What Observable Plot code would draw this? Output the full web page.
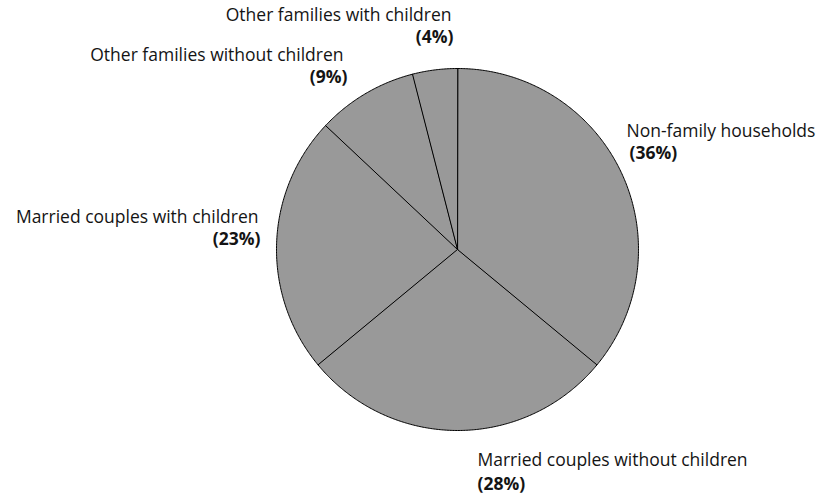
<!DOCTYPE html>
<html>
<head>
<meta charset="utf-8">
<script src="https://cdn.jsdelivr.net/npm/d3@7"></script>
<script src="https://cdn.jsdelivr.net/npm/@observablehq/plot@0.6"></script>
<style>
  html, body { margin: 0; padding: 0; background: #fff; }
</style>
</head>
<body>
<div id="chart"></div>
<script>
// Household types and their share of all households (%), clockwise from 12 o'clock
const categories = [
  "Non-family households",
  "Married couples without children",
  "Married couples with children",
  "Other families without children",
  "Other families with children"
];
const shares = [36, 28, 23, 9, 4];

// Page and pie geometry (pixels)
const W = 827, H = 494;
const CX = 457, CY = 249, R = 181;

// Where each two-line label sits: anchor side, name baseline, percentage baseline (pixels)
const labelSide = ["start", "start", "end", "end", "end"];
const nameSpots = [[626, 136], [477, 465], [258, 222], [343, 60], [451, 20]];
const pctSpots  = [[629, 158], [477, 489], [260, 244], [347, 82], [453, 42]];

const rows = categories.map((name, i) => ({name, share: shares[i]}));

// Wedge outlines in pie-radius units (x right, y up), angles clockwise from the top
const arcs = d3.pie().sort(null).value(d => d.share)(rows);
const wedgePts = arcs.flatMap(a => {
  const name = a.data.name;
  const n = Math.max(2, Math.ceil((a.endAngle - a.startAngle) / (Math.PI / 360)));
  const pts = [{name, x: 0, y: 0}];
  for (let i = 0; i <= n; i++) {
    const t = a.startAngle + (a.endAngle - a.startAngle) * i / n;
    pts.push({name, x: Math.sin(t), y: Math.cos(t)});
  }
  return pts;
});

// Label table in the same units as the wedges
const toX = px => (px - CX) / R;
const toY = py => (CY - py) / R;
const labels = rows.map((d, i) => ({
  name: d.name,
  pct: `(${d.share}%)`,
  side: labelSide[i],
  nx: toX(nameSpots[i][0]), ny: toY(nameSpots[i][1]),
  px: toX(pctSpots[i][0]),  py: toY(pctSpots[i][1])
}));

const textStyle = {fontSize: 17.5, lineAnchor: "bottom", fill: "#141414"};

const labelMarks = ["start", "end"].flatMap(side => {
  const sub = labels.filter(d => d.side === side);
  return [
    Plot.text(sub, {x: "nx", y: "ny", text: "name", textAnchor: side, ...textStyle}),
    Plot.text(sub, {x: "px", y: "py", text: "pct", textAnchor: side, fontWeight: "bold", ...textStyle})
  ];
});

const chart = Plot.plot({
  width: W,
  height: H,
  margin: 0,
  x: {domain: [-CX / R, (W - CX) / R], axis: null},
  y: {domain: [-(H - CY) / R, CY / R], axis: null},
  style: {fontFamily: "'Open Sans', sans-serif", background: "#fff"},
  marks: [
    Plot.line(wedgePts, {
      x: "x", y: "y", z: "name",
      curve: "linear-closed",
      fill: "#999999",
      stroke: "#000",
      strokeWidth: 1,
      strokeLinejoin: "miter"
    }),
    ...labelMarks
  ]
});

document.getElementById("chart").appendChild(chart);
</script>
</body>
</html>
